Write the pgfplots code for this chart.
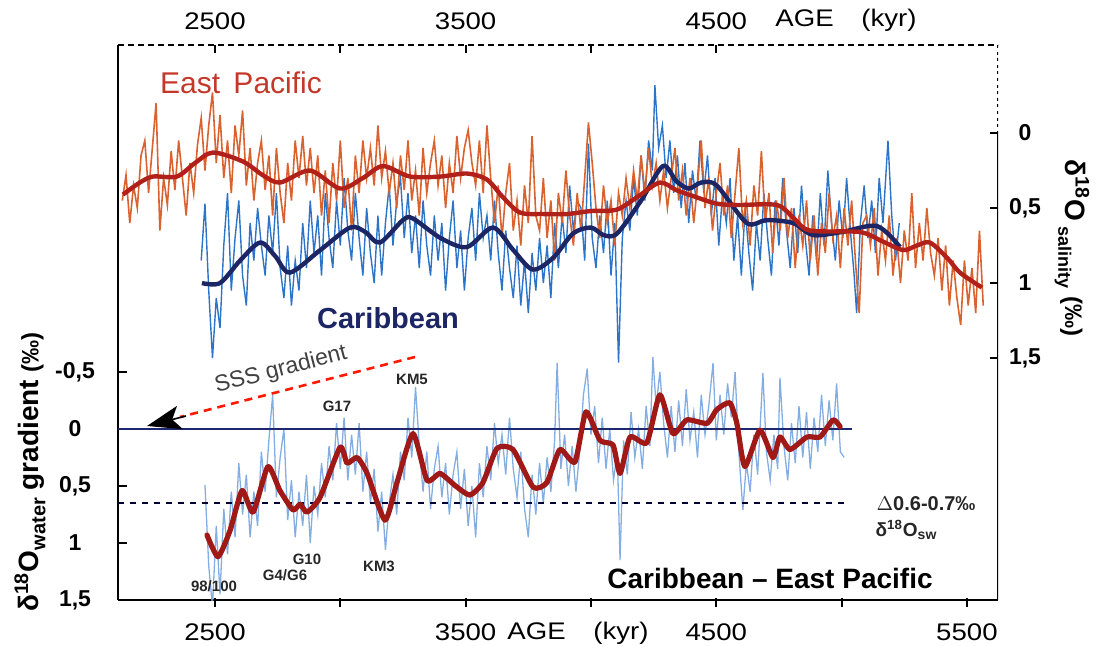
\documentclass[border=0pt]{standalone}
\usepackage{fontspec}
\setmainfont{Liberation Sans}
\usepackage{pgfplots}
\pgfplotsset{compat=1.18}
\usetikzlibrary{arrows.meta}
\definecolor{eporange}{RGB}{218,98,46}
\definecolor{epred}{RGB}{178,32,26}
\definecolor{cbblue}{RGB}{44,116,200}
\definecolor{cbnavy}{RGB}{28,38,100}
\definecolor{lowblue}{RGB}{110,160,220}
\definecolor{lowred}{RGB}{160,25,22}
\definecolor{txtred}{RGB}{196,56,42}
\definecolor{zeronavy}{RGB}{30,40,110}
\begin{document}
\begin{tikzpicture}
\path[use as bounding box] (0,0) rectangle (548pt,323pt);
% ---------------- lower / left axis: gradient ----------------
\begin{axis}[
  at={(59pt,23pt)}, anchor=south west, scale only axis,
  width=440pt, height=277.5pt,
  xmin=2113, xmax=5624, ymin=-3.368, ymax=1.5, y dir=reverse,
  axis x line*=bottom, axis y line*=left,
  axis line style={line width=1pt,-},
  xtick={2500,3000,3500,4000,4500,5000,5500},
  xticklabels={2500,,3500,,4500,,5500},
  ytick={-0.5,0,0.5,1,1.5},
  yticklabels={{-0,5},0,{0,5},1,{1,5}},
  tick align=inside, major tick length=4.5pt,
  tick style={line width=1pt,black},
  xtick style={yshift=-3.5pt},
  xticklabel style={font=\fontsize{12}{14}\selectfont, xscale=1.15, anchor=center, yshift=-16pt},
  yticklabel style={font=\bfseries\fontsize{11.5}{13}\selectfont, anchor=center, xshift=-21.5pt},
]
\addplot[lowblue, line width=0.65pt, opacity=0.85] coordinates {
(2460,0.49)(2475,1.20)(2490,1.56)(2505,0.85)(2520,1.45)(2535,0.70)(2550,1.10)(2565,0.55)(2580,0.95)(2595,0.30)
(2610,0.75)(2625,0.40)(2640,0.95)(2655,0.55)(2670,0.85)(2685,0.20)(2700,0.55)(2715,0.10)(2730,-0.30)(2745,0.60)
(2760,0.25)(2775,0.00)(2790,0.80)(2805,0.45)(2820,0.95)(2835,0.55)(2850,0.85)(2865,0.40)(2880,1.00)(2895,0.50)
(2910,0.75)(2925,0.30)(2940,0.60)(2955,0.15)(2970,0.45)(2985,-0.05)(3000,0.35)(3015,-0.10)(3030,0.45)(3045,0.05)
(3060,0.40)(3075,-0.05)(3090,0.55)(3105,0.20)(3120,0.65)(3135,0.35)(3150,0.90)(3165,0.55)(3180,1.06)(3195,0.65)
(3210,0.40)(3225,0.75)(3240,0.20)(3255,0.45)(3270,-0.10)(3285,0.25)(3300,-0.37)(3315,0.15)(3330,0.55)(3345,0.20)
(3360,0.70)(3375,0.35)(3390,0.15)(3405,0.60)(3420,0.30)(3435,0.75)(3450,0.40)(3465,0.20)(3480,0.70)(3495,0.35)
(3510,0.85)(3525,0.50)(3540,0.95)(3555,0.30)(3570,0.60)(3585,0.15)(3600,0.45)(3615,-0.05)(3630,0.30)(3645,0.05)
(3660,0.40)(3675,-0.10)(3690,0.35)(3705,0.60)(3720,0.20)(3735,0.70)(3750,0.95)(3765,0.40)(3780,0.75)(3795,0.30)
(3810,0.65)(3825,0.25)(3840,0.55)(3855,0.10)(3865,-0.58)(3880,0.35)(3895,0.05)(3910,0.50)(3925,0.15)(3940,0.55)
(3955,0.20)(3970,-0.30)(3985,-0.53)(4000,0.05)(4015,-0.20)(4030,0.30)(4045,-0.10)(4060,0.35)(4075,0.00)(4090,0.45)
(4105,0.20)(4116,1.15)(4130,0.10)(4145,0.40)(4160,-0.15)(4175,0.25)(4190,0.00)(4205,0.35)(4220,-0.20)(4235,0.15)
(4247,-0.63)(4260,-0.20)(4275,-0.50)(4290,-0.05)(4305,0.25)(4320,-0.20)(4335,0.20)(4350,-0.25)(4365,0.15)(4380,-0.35)
(4395,0.10)(4410,-0.15)(4425,0.25)(4440,-0.30)(4455,0.05)(4470,-0.20)(4487,-0.58)(4500,0.10)(4515,-0.30)(4530,0.05)
(4545,-0.40)(4560,-0.10)(4575,-0.50)(4590,0.20)(4606,0.71)(4620,0.30)(4635,0.55)(4650,0.05)(4665,0.40)(4686,-0.49)
(4700,0.20)(4715,0.45)(4730,0.05)(4745,0.35)(4754,-0.45)(4770,0.15)(4785,0.45)(4800,-0.05)(4815,0.30)(4830,-0.20)
(4845,0.25)(4860,-0.15)(4875,0.35)(4890,-0.10)(4905,0.20)(4920,-0.30)(4935,0.15)(4950,-0.25)(4965,0.10)(4980,-0.40)
(4995,0.20)(5010,0.25)};
\addplot[zeronavy, line width=0.9pt] coordinates {(2113,0) (5040,0)};
\addplot[black!80!blue, line width=0.9pt, dash pattern=on 3pt off 3pt] coordinates {(2113,0.65) (5030,0.65)};
\addplot[lowred, line width=2.6pt, line join=round, line cap=round, smooth, tension=0.35] coordinates {
(2468,0.93)(2512,1.12)(2560,0.89)(2608,0.54)(2652,0.73)(2711,0.33)(2759,0.54)(2811,0.71)(2840,0.66)(2867,0.73)
(2919,0.60)(2999,0.16)(3027,0.30)(3067,0.25)(3107,0.39)(3178,0.80)(3226,0.47)(3290,0.04)(3346,0.45)(3398,0.39)
(3460,0.50)(3517,0.58)(3569,0.47)(3625,0.17)(3689,0.18)(3769,0.51)(3824,0.47)(3876,0.18)(3936,0.29)(3980,-0.15)
(4036,0.10)(4088,0.14)(4116,0.39)(4156,0.07)(4223,0.12)(4275,-0.30)(4327,0.04)(4383,-0.08)(4463,-0.05)(4502,-0.17)
(4554,-0.23)(4582,-0.05)(4614,0.33)(4674,0.01)(4726,0.25)(4754,0.07)(4794,0.18)(4862,0.07)(4914,0.07)(4966,-0.08)
(4994,-0.02)};
\end{axis}
% ---------------- upper / right axis: salinity ----------------
\begin{axis}[
  at={(59pt,23pt)}, anchor=south west, scale only axis,
  width=440pt, height=277.5pt,
  xmin=2113, xmax=5624, ymin=-0.587, ymax=3.113, y dir=reverse,
  axis x line*=top, axis y line*=right,
  axis line style={draw=none},
  xtick={2500,3000,3500,4000,4500},
  xticklabels={2500,,3500,,4500},
  ytick={0,0.5,1,1.5},
  yticklabels={0,{0,5},1,{1,5}},
  tick align=inside, major tick length=4pt,
  tick style={line width=1pt,black},
  xticklabel style={font=\fontsize{12}{14}\selectfont, xscale=1.15, anchor=center, yshift=12pt},
  yticklabel style={font=\bfseries\fontsize{11.5}{13}\selectfont, anchor=center, xshift=13.5pt},
]
\addplot[cbblue, line width=0.7pt] coordinates {
(2445,0.85)(2460,0.47)(2475,1.05)(2490,1.50)(2505,1.10)(2520,1.30)(2535,0.75)(2550,0.40)(2565,1.05)(2580,0.70)
(2595,0.45)(2610,0.95)(2625,1.15)(2640,0.60)(2655,0.85)(2670,0.50)(2685,0.75)(2700,0.95)(2715,0.55)(2730,0.80)
(2745,0.40)(2760,0.90)(2775,1.10)(2790,0.75)(2805,1.15)(2820,0.85)(2835,1.05)(2850,0.60)(2865,0.90)(2880,0.45)
(2895,0.80)(2910,0.55)(2925,0.95)(2940,0.40)(2955,0.70)(2970,0.90)(2985,0.45)(3000,0.75)(3015,0.30)(3030,0.65)
(3045,0.85)(3060,0.40)(3075,0.70)(3090,0.95)(3105,0.50)(3120,0.80)(3135,1.00)(3150,0.55)(3165,0.95)(3180,0.60)
(3195,0.35)(3210,0.75)(3225,0.45)(3240,0.30)(3255,0.70)(3270,0.40)(3285,0.80)(3300,0.55)(3315,0.90)(3330,0.45)
(3345,0.75)(3360,0.95)(3375,0.55)(3390,0.85)(3405,0.60)(3420,1.05)(3435,0.70)(3450,0.45)(3465,0.90)(3480,0.65)
(3495,1.05)(3510,0.70)(3525,0.50)(3540,0.85)(3555,0.40)(3570,0.70)(3585,0.55)(3600,0.85)(3615,0.45)(3630,0.80)
(3645,1.05)(3660,0.65)(3675,0.90)(3690,1.10)(3705,0.75)(3720,1.15)(3735,0.85)(3750,1.20)(3765,0.80)(3780,1.05)
(3795,0.70)(3810,1.00)(3825,0.75)(3840,1.10)(3855,0.60)(3870,0.90)(3885,0.55)(3900,0.80)(3915,0.35)(3930,0.65)
(3945,0.45)(3960,0.50)(3975,0.85)(3990,0.07)(4005,0.70)(4020,0.90)(4035,0.55)(4050,0.80)(4065,0.45)(4080,0.95)
(4095,0.60)(4110,1.53)(4125,0.70)(4140,0.45)(4155,0.65)(4170,0.30)(4185,0.55)(4200,0.15)(4215,0.45)(4230,0.05)
(4245,0.25)(4255,-0.32)(4270,0.10)(4285,-0.05)(4300,0.30)(4315,0.05)(4330,0.40)(4345,0.15)(4360,0.50)(4375,0.20)
(4390,0.60)(4405,0.25)(4420,0.45)(4435,0.05)(4450,0.40)(4465,0.15)(4480,0.55)(4495,0.30)(4510,0.75)(4525,0.40)
(4540,0.60)(4555,0.30)(4570,0.85)(4585,0.55)(4600,0.95)(4615,0.50)(4630,0.80)(4645,1.05)(4660,0.60)(4675,0.85)
(4690,0.40)(4705,0.70)(4720,0.95)(4735,0.45)(4750,0.75)(4765,0.30)(4780,0.65)(4795,0.90)(4810,0.50)(4825,0.80)
(4840,0.35)(4855,0.70)(4870,0.95)(4885,0.55)(4900,0.85)(4915,0.40)(4930,0.75)(4945,0.25)(4960,0.60)(4975,0.85)
(4990,0.45)(5005,0.70)(5020,0.30)(5035,0.65)(5050,0.95)(5060,1.20)(5075,0.60)(5090,0.35)(5105,0.70)(5120,0.45)
(5135,0.80)(5150,0.30)(5165,0.60)(5185,0.05)(5200,0.55)(5215,0.85)(5230,0.60)};
\addplot[eporange, line width=0.8pt] coordinates {
(2130,0.45)(2145,0.28)(2160,0.60)(2175,0.35)(2190,0.50)(2205,0.15)(2220,0.05)(2235,0.40)(2250,0.10)(2265,-0.20)
(2280,0.65)(2295,0.30)(2310,0.48)(2325,0.12)(2340,0.38)(2355,0.05)(2370,0.30)(2385,0.55)(2400,0.20)(2415,0.40)
(2430,0.08)(2445,-0.10)(2460,0.25)(2475,-0.05)(2490,-0.27)(2505,0.20)(2520,-0.12)(2535,0.30)(2550,0.05)(2565,0.40)
(2580,-0.05)(2595,0.15)(2610,-0.15)(2625,0.35)(2640,0.10)(2655,0.45)(2670,0.20)(2685,0.05)(2700,0.38)(2715,0.15)
(2730,0.55)(2745,0.10)(2760,0.40)(2775,0.60)(2790,0.20)(2805,0.45)(2820,0.05)(2835,0.30)(2850,0.02)(2865,0.35)
(2880,0.10)(2895,0.40)(2910,0.15)(2925,0.55)(2940,0.25)(2955,0.60)(2970,0.20)(2985,0.45)(3000,0.05)(3015,0.50)
(3030,0.30)(3045,0.65)(3060,0.15)(3075,0.40)(3090,0.05)(3105,0.30)(3120,0.10)(3135,0.35)(3150,-0.05)(3165,0.30)
(3180,0.12)(3195,0.40)(3210,0.20)(3225,0.50)(3240,0.15)(3255,0.38)(3270,0.05)(3285,0.45)(3300,0.25)(3315,0.55)
(3330,0.10)(3345,0.40)(3360,0.20)(3375,0.05)(3390,0.35)(3405,0.15)(3420,0.50)(3435,0.20)(3450,0.40)(3465,0.02)
(3480,0.30)(3495,0.10)(3510,-0.02)(3525,0.20)(3540,0.35)(3555,0.05)(3570,0.40)(3585,-0.05)(3600,0.30)(3615,0.60)
(3630,0.35)(3645,0.70)(3660,0.40)(3675,0.20)(3690,0.65)(3705,0.45)(3720,0.75)(3735,0.35)(3750,0.60)(3765,0.02)
(3780,0.55)(3795,0.65)(3810,0.30)(3825,0.70)(3840,0.45)(3855,0.85)(3870,0.40)(3885,0.60)(3900,0.25)(3915,0.55)
(3930,0.75)(3945,0.40)(3960,0.65)(3975,0.30)(3990,-0.07)(4005,0.20)(4020,0.50)(4035,0.70)(4050,0.35)(4065,0.60)
(4080,0.45)(4095,0.75)(4110,0.40)(4125,0.55)(4140,0.30)(4155,0.50)(4170,0.25)(4185,0.45)(4200,0.15)(4215,0.40)
(4230,0.10)(4245,0.35)(4260,0.20)(4275,0.45)(4290,0.25)(4305,0.50)(4320,0.30)(4335,0.10)(4350,0.45)(4365,0.25)
(4380,0.55)(4395,0.30)(4410,0.60)(4425,0.35)(4440,0.05)(4455,0.50)(4470,0.30)(4485,0.65)(4500,0.40)(4515,0.20)
(4530,0.55)(4545,0.35)(4560,0.70)(4575,0.40)(4590,0.10)(4605,0.60)(4620,0.45)(4635,0.75)(4650,0.35)(4665,0.55)
(4680,0.12)(4695,0.60)(4710,0.40)(4725,0.80)(4740,0.45)(4755,0.65)(4770,0.30)(4785,0.70)(4800,0.50)(4815,0.90)
(4830,0.55)(4845,0.75)(4860,0.45)(4875,0.85)(4890,0.55)(4905,0.95)(4920,0.60)(4935,0.80)(4950,0.40)(4965,0.70)
(4980,0.55)(4995,0.90)(5010,0.50)(5025,0.75)(5040,0.45)(5055,0.85)(5070,1.20)(5085,0.60)(5100,0.55)(5115,0.75)
(5130,0.50)(5145,0.95)(5160,0.65)(5175,0.85)(5190,0.55)(5205,0.95)(5220,0.70)(5235,1.00)(5250,0.65)(5265,0.85)
(5280,0.40)(5295,0.90)(5310,0.60)(5325,0.85)(5340,0.50)(5355,0.80)(5370,0.95)(5385,0.70)(5400,1.05)(5415,0.75)
(5430,1.15)(5445,0.85)(5460,1.10)(5475,1.28)(5490,0.85)(5505,1.15)(5520,0.90)(5535,1.20)(5550,0.65)(5565,1.15)};
\addplot[cbnavy, line width=2.2pt, smooth, tension=0.5] coordinates {
(2448,1.00)(2520,1.00)(2600,0.85)(2680,0.73)(2740,0.82)(2799,0.93)(2920,0.78)(3039,0.63)(3100,0.66)(3158,0.73)
(3250,0.58)(3290,0.57)(3400,0.70)(3505,0.76)(3609,0.63)(3690,0.78)(3768,0.91)(3850,0.83)(3928,0.67)(4000,0.63)
(4050,0.68)(4104,0.67)(4200,0.45)(4287,0.22)(4340,0.32)(4390,0.37)(4440,0.33)(4502,0.35)(4622,0.60)(4700,0.58)
(4806,0.60)(4886,0.68)(5000,0.66)(5141,0.62)(5233,0.76)};
\addplot[epred, line width=2.2pt, smooth, tension=0.5] coordinates {
(2133,0.41)(2200,0.33)(2253,0.29)(2348,0.29)(2420,0.20)(2492,0.13)(2612,0.19)(2690,0.28)(2759,0.33)(2879,0.25)
(2999,0.37)(3090,0.30)(3170,0.22)(3278,0.29)(3400,0.29)(3505,0.27)(3585,0.31)(3650,0.43)(3717,0.53)(3810,0.54)
(3904,0.54)(4000,0.52)(4104,0.51)(4190,0.42)(4275,0.33)(4340,0.38)(4407,0.42)(4500,0.47)(4583,0.48)(4742,0.48)
(4810,0.57)(4874,0.65)(5073,0.66)(5160,0.72)(5245,0.78)(5300,0.75)(5352,0.73)(5420,0.83)(5472,0.93)(5560,1.03)};
% frame pieces
\draw[line width=1.1pt, dash pattern=on 3pt off 2pt] (axis cs:2113,-0.587) -- (axis cs:5624,-0.587);
\draw[line width=1.3pt, dash pattern=on 1.5pt off 1.8pt] (axis cs:5624,-0.587) -- (axis cs:5624,0);
\draw[line width=1pt] (axis cs:5624,0) -- (axis cs:5624,3.113);
\end{axis}
% ---------------- annotations (pixel coordinates) ----------------
\begin{scope}[x=0.5pt,y=-0.5pt,shift={(0pt,323pt)}]
\node[txtred, font=\fontsize{15}{17}\selectfont] at (241,83) {East\, Pacific};
\node[cbnavy, font=\bfseries\fontsize{14.5}{17}\selectfont] at (388,318) {Caribbean};
\node[font=\bfseries\fontsize{14}{17}\selectfont] at (770,578) {Caribbean – East Pacific};
\node[font=\fontsize{12}{14}\selectfont, xscale=1.15] at (578,633) {AGE\quad(kyr)};
\node[font=\fontsize{12}{14}\selectfont, xscale=1.15] at (846,20) {AGE\quad(kyr)};
% SSS gradient arrow
\draw[red!80!orange, line width=1.3pt, dash pattern=on 4pt off 3pt] (415,357) -- (180,417);
\draw[black, -{Stealth[length=17pt,width=12pt,inset=4pt]}, line width=0.8pt] (186,416) -- (147,426);
\node[black!75, rotate=14.5, font=\fontsize{11.5}{13}\selectfont] at (281,370) {SSS gradient};
% event labels
\begin{scope}[font=\bfseries\fontsize{7.5}{9}\selectfont, black!85]
\node at (214,586) {98/100};
\node at (285,575) {G4/G6};
\node at (307,559) {G10};
\node at (379,566) {KM3};
\node at (337,406) {G17};
\node at (412,379) {KM5};
\end{scope}
\node[font=\bfseries\fontsize{10}{11}\selectfont, black!85, inner sep=1pt] at (926,504) {$\Delta$0.6-0.7‰};
\node[font=\bfseries\fontsize{9.5}{10}\selectfont, black!85, inner sep=1pt] at (906,530) {δ\textsuperscript{18}O\raisebox{-0.3ex}{\fontsize{7}{8}\selectfont sw}};
% axis titles
\node[rotate=90, font=\bfseries\fontsize{14}{16}\selectfont] at (30,472) {δ\textsuperscript{18}O\raisebox{-0.45ex}{\fontsize{10}{11}\selectfont water} gradient \fontsize{12}{14}\selectfont(‰)};
\node[rotate=-90, font=\bfseries\fontsize{14}{16}\selectfont] at (1072,248) {δ\textsuperscript{18}O\raisebox{-0.45ex}{\fontsize{9}{10}\selectfont\ salinity} \fontsize{12}{14}\selectfont(‰)};
\end{scope}
\end{tikzpicture}
\end{document}
